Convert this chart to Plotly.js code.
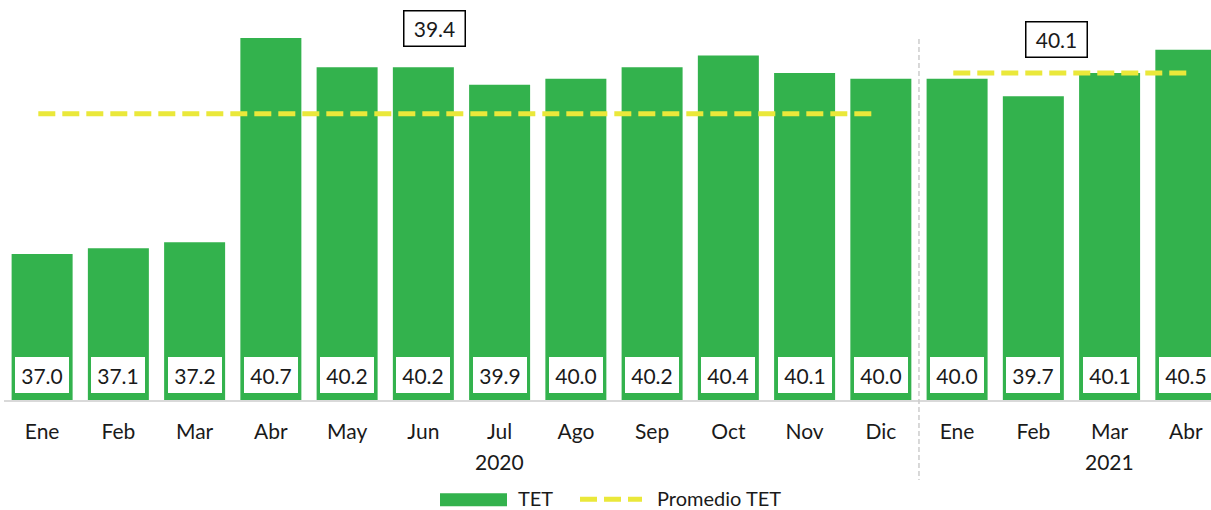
<!DOCTYPE html>
<html>
<head>
<meta charset="utf-8">
<script src="https://cdn.plot.ly/plotly-3.0.1.min.js"></script>
<style>
html,body{margin:0;padding:0;background:#fff;}
#chart{width:1211px;height:510px;}
</style>
</head>
<body>
<div id="chart"></div>
<script>
// Data
const months = ["Ene","Feb","Mar","Abr","May","Jun","Jul","Ago","Sep","Oct","Nov","Dic","Ene","Feb","Mar","Abr"];
const tetValues = [37.0,37.1,37.2,40.7,40.2,40.2,39.9,40.0,40.2,40.4,40.1,40.0,40.0,39.7,40.1,40.5];
const years = ["2020","2021"];
const yearStart = [0, 12];
const yearEnd = [11, 15];
const yearLabelAt = [6, 14];
const avgValues = [39.4, 40.1];

const GREEN = "#33B24D";
const YELLOW = "#EAE83A";
const FONT = "Lato, 'Open Sans', sans-serif";
const TXT = "#1a1a1a";

const xIdx = months.map((m,i)=>i);

const traces = [{
  type: "bar",
  x: xIdx,
  y: tetValues,
  marker: {color: GREEN},
  width: 0.8,
  hoverinfo: "skip",
  showlegend: false
}];

years.forEach((yr, k) => {
  traces.push({
    type: "scatter",
    mode: "lines",
    x: [yearStart[k] - 0.05, yearEnd[k] + (k === 0 ? -0.1 : 0.05)],
    y: [avgValues[k], avgValues[k]],
    line: {color: YELLOW, width: 5, dash: "17px,7px"},
    hoverinfo: "skip",
    showlegend: false
  });
});

const annotations = [];
// value boxes inside bars
tetValues.forEach((v, i) => {
  annotations.push({
    x: i, xref: "x",
    y: 0.0625, yref: "paper",
    text: v.toFixed(1),
    showarrow: false,
    font: {family: FONT, size: 21, color: TXT},
    bgcolor: "#ffffff",
    width: 54, height: 36,
    borderpad: 0, borderwidth: 0,
    xanchor: "center", yanchor: "middle"
  });
});
// average labels
const avgLabelX = [5.14, 13.31];
const avgLabelY = [40.87, 40.68];
avgValues.forEach((v, k) => {
  annotations.push({
    x: avgLabelX[k], xref: "x",
    y: avgLabelY[k], yref: "y",
    text: v.toFixed(1),
    showarrow: false,
    font: {family: FONT, size: 21, color: TXT},
    bgcolor: "#ffffff",
    bordercolor: "#000000", borderwidth: 1.5,
    width: 60, height: 34, borderpad: 0,
    xanchor: "center", yanchor: "middle"
  });
});
// year labels
years.forEach((yr, k) => {
  annotations.push({
    x: yearLabelAt[k], xref: "x",
    y: -0.153, yref: "paper",
    text: yr, showarrow: false,
    font: {family: FONT, size: 21, color: TXT},
    xanchor: "center", yanchor: "middle"
  });
});
// legend texts
annotations.push({
  x: (516-4)/1207, xref: "paper", y: -0.245, yref: "paper",
  text: "TET", showarrow: false, xanchor: "left", yanchor: "middle",
  font: {family: FONT, size: 20, color: TXT}
});
annotations.push({
  x: (655-4)/1207, xref: "paper", y: -0.245, yref: "paper",
  text: "Promedio TET", showarrow: false, xanchor: "left", yanchor: "middle",
  font: {family: FONT, size: 20, color: TXT}
});

const shapes = [
  // separator
  {type: "line", xref: "x", yref: "paper", x0: 11.5, x1: 11.5, y0: 0.9025, y1: -0.2,
   line: {color: "#cccccc", width: 1.5, dash: "5px,3px"}},
  // legend rect
  {type: "rect", xref: "paper", yref: "paper",
   x0: (440-4)/1207, x1: (507-4)/1207, y0: -0.233, y1: -0.2655,
   fillcolor: GREEN, line: {width: 0}},
  // legend dashed line
  {type: "line", xref: "paper", yref: "paper",
   x0: (580-4)/1207, x1: (642-4)/1207, y0: -0.248, y1: -0.248,
   line: {color: YELLOW, width: 5, dash: "17px,7px"}}
];

const layout = {
  width: 1211, height: 510,
  margin: {l: 4, r: 0, t: 0, b: 110},
  paper_bgcolor: "#ffffff",
  plot_bgcolor: "#ffffff",
  showlegend: false,
  bargap: 0.2,
  xaxis: {
    range: [-0.5, 15.33],
    tickmode: "array",
    tickvals: xIdx,
    ticktext: months,
    ticks: "outside", ticklen: 12, tickcolor: "rgba(0,0,0,0)",
    tickfont: {family: FONT, size: 21, color: TXT},
    showline: true, linecolor: "#d9d9d9", linewidth: 2,
    showgrid: false, zeroline: false, fixedrange: true
  },
  yaxis: {
    range: [34.5, 41.35],
    visible: false,
    showgrid: false, zeroline: false, fixedrange: true
  },
  annotations: annotations,
  shapes: shapes,
  font: {family: FONT}
};

Plotly.newPlot("chart", traces, layout, {displayModeBar: false, staticPlot: true});
</script>
</body>
</html>
